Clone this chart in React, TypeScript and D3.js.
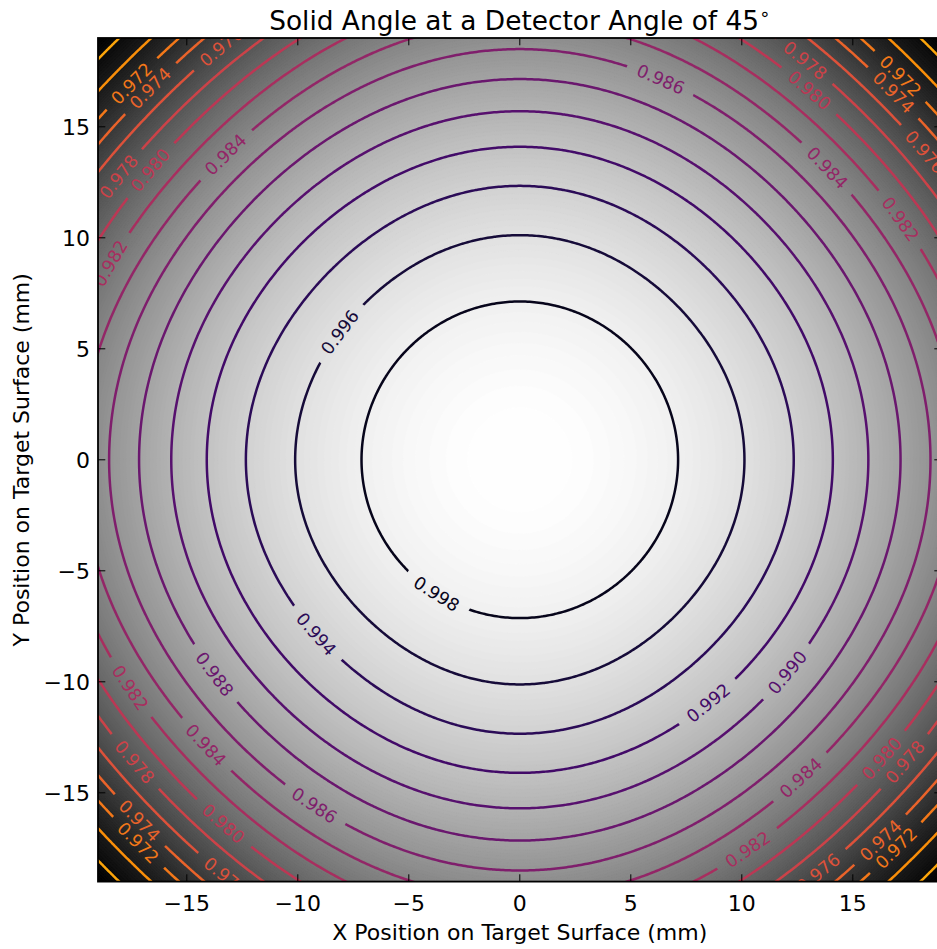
import React, { useMemo } from "react";
import * as d3 from "d3";

// Contour levels of the normalised solid angle
const levels = [
  0.998, 0.996, 0.994, 0.992, 0.99, 0.988, 0.986, 0.984, 0.982, 0.98, 0.978,
  0.976, 0.974, 0.972, 0.97, 0.968, 0.966,
];
// Distance (mm) from the centre at which each level crosses the x / y axes
const axisRadius = [
  7.13, 10.12, 12.34, 14.1, 15.7, 17.15, 18.5, 19.75, 20.95, 22.05, 23.1,
  24.1, 25.05, 25.95, 26.8, 27.6, 28.4,
];
// Distance (mm) from the centre at which each level crosses the diagonals
const diagonalRadius = [
  7.1, 9.92, 12.06, 13.84, 15.38, 16.75, 17.99, 19.1, 20.14, 21.1, 21.99,
  22.83, 23.61, 24.35, 25.2, 26.2, 27.1,
];
const peakValue = 1.0;
const xTicks = [-15, -10, -5, 0, 5, 10, 15];
const yTicks = [-15, -10, -5, 0, 5, 10, 15];
const domainMM: [number, number] = [-19, 19];

// Where the inline contour labels sit (mm)
const labelSpots = [
  { level: 0.998, x: -3.74, y: -5.95 },
  { level: 0.996, x: -8.02, y: 5.72 },
  { level: 0.994, x: -9.14, y: -7.75 },
  { level: 0.992, x: 8.42, y: -10.9 },
  { level: 0.99, x: 11.98, y: -9.55 },
  { level: 0.988, x: -13.65, y: -9.6 },
  { level: 0.986, x: 6.26, y: 16.9 },
  { level: 0.986, x: -9.28, y: -15.6 },
  { level: 0.984, x: -13.2, y: 13.65 },
  { level: 0.984, x: -14.0, y: -12.75 },
  { level: 0.984, x: 12.66, y: -14.28 },
  { level: 0.984, x: 13.78, y: 13.06 },
  { level: 0.982, x: 17.07, y: 10.72 },
  { level: 0.982, x: 10.18, y: -17.43 },
  { level: 0.982, x: -17.48, y: -10.27 },
  { level: 0.982, x: -18.6, y: 9.0 },
  { level: 0.98, x: -16.58, y: 13.06 },
  { level: 0.98, x: -13.2, y: -16.2 },
  { level: 0.98, x: 16.17, y: -13.29 },
  { level: 0.98, x: 13.02, y: 16.53 },
  { level: 0.978, x: -18.06, y: 12.7 },
  { level: 0.978, x: -17.25, y: -13.5 },
  { level: 0.978, x: 17.3, y: -13.6 },
  { level: 0.978, x: 12.8, y: 17.93 },
  { level: 0.976, x: 18.15, y: 13.83 },
  { level: 0.976, x: 13.2, y: -18.33 },
  { level: 0.976, x: -13.3, y: 18.47 },
  { level: 0.976, x: -13.2, y: -18.78 },
  { level: 0.974, x: -16.58, y: 16.67 },
  { level: 0.974, x: -16.94, y: -16.08 },
  { level: 0.974, x: 16.13, y: -16.98 },
  { level: 0.974, x: 16.7, y: 16.44 },
  { level: 0.972, x: -17.39, y: 16.89 },
  { level: 0.972, x: -17.07, y: -17.12 },
  { level: 0.972, x: 16.85, y: -17.43 },
  { level: 0.972, x: 17.16, y: 17.34 },
];

const W = 937;
const H = 949;
const M = { left: 98, top: 38, size: 843.6 };
const FONT = "'DejaVu Sans', 'Liberation Sans', sans-serif";
const LABEL_SIZE = 17.5;
const TICK_SIZE = 22;

// Normalised solid angle at a point, built from the level radii
function fieldAt(x: number, y: number): number {
  const r2 = x * x + y * y;
  if (r2 === 0) return peakValue;
  const s = Math.sin(2 * Math.atan2(y, x));
  const w = s * s;
  let prevR2 = 0;
  let prevV = peakValue;
  const radii: number[] = [];
  for (let i = 0; i < levels.length; i++) {
    const R = axisRadius[i] * (1 - w) + diagonalRadius[i] * w;
    const R2 = R * R;
    radii.push(R2);
    if (r2 <= R2) return prevV + ((levels[i] - prevV) * (r2 - prevR2)) / (R2 - prevR2);
    prevR2 = R2;
    prevV = levels[i];
  }
  const n = levels.length;
  const a = radii[n - 2];
  const b = radii[n - 1];
  return levels[n - 1] + ((levels[n - 1] - levels[n - 2]) * (r2 - b)) / (b - a);
}

export default function App() {
  const x = d3.scaleLinear().domain(domainMM).range([M.left, M.left + M.size]);
  const y = d3.scaleLinear().domain(domainMM).range([M.top + M.size, M.top]);

  const model = useMemo(() => {
    // grid over a slightly larger square so edge-following ring parts fall outside the frame
    const g0 = -20.5;
    const g1 = 20.5;
    const n = 410;
    const step = (g1 - g0) / n;
    const values = new Float64Array(n * n);
    for (let j = 0; j < n; j++) {
      const yy = g1 - (j + 0.5) * step;
      for (let i = 0; i < n; i++) {
        values[j * n + i] = fieldAt(g0 + (i + 0.5) * step, yy);
      }
    }
    const toPx = (p: number[]) => [x(g0 + p[0] * step), y(g1 - p[1] * step)];
    const gen = d3.contours().size([n, n]);

    const fMax = peakValue;
    const fMin = fieldAt(domainMM[1], domainMM[1]);
    const gray = (v: number) => {
      const t = Math.max(0, Math.min(1, (v - fMin) / (fMax - fMin)));
      const c = Math.round(255 * t);
      return `rgb(${c},${c},${c})`;
    };
    const nb = 200;
    const span = fMax - fMin + 0.01;
    const bandEdges = d3.range(nb).map((k) => fMin - 0.01 + (span * k) / nb);
    const ringPath = (rings: number[][][]) =>
      rings
        .map((ring) => "M" + ring.map((p) => toPx(p).map((v) => v.toFixed(2)).join(",")).join("L") + "Z")
        .join("");
    const bands = bandEdges.map((t, k) => {
      const c = gen.contour(values as any, k === 0 ? -Infinity : t);
      const d = c.coordinates.map((poly) => ringPath(poly)).join("");
      const mid = t + span / nb / 2;
      return { d, fill: gray(mid) };
    });

    const lines = levels.map((lv) => {
      const c = gen.contour(values as any, lv);
      const rings = c.coordinates.flat().map((ring) => ring.map(toPx));
      return { level: lv, rings };
    });
    return { bands, lines };
  }, []);

  const color = d3.scaleSequential(d3.interpolateInferno).domain([1.0, 0.96]);

  const labels = labelSpots.map((s) => {
    const ln = model.lines.find((l) => Math.abs(l.level - s.level) < 1e-9)!;
    const tx = x(s.x);
    const ty = y(s.y);
    let best = { d: Infinity, ring: 0, idx: 0 };
    ln.rings.forEach((ring, ri) => {
      ring.forEach((p, pi) => {
        const d = (p[0] - tx) ** 2 + (p[1] - ty) ** 2;
        if (d < best.d) best = { d, ring: ri, idx: pi };
      });
    });
    const ring = ln.rings[best.ring];
    const L = ring.length;
    const p = ring[best.idx];
    const a = ring[(best.idx - 5 + L) % L];
    const b = ring[(best.idx + 5) % L];
    let ang = (Math.atan2(b[1] - a[1], b[0] - a[0]) * 180) / Math.PI;
    if (ang > 90) ang -= 180;
    if (ang < -90) ang += 180;
    const text = d3.format(".3f")(s.level);
    return { level: s.level, x: p[0], y: p[1], angle: ang, text, color: color(s.level) };
  });

  const fmtTick = (v: number) => String(v).replace("-", "\u2212");
  const lineGen = d3.line<number[]>().x((p) => p[0]).y((p) => p[1]);
  const textW = (t: string) => LABEL_SIZE * (0.636 * (t.length - 1) + 0.318);

  const x0 = M.left;
  const x1 = M.left + M.size;
  const y0 = M.top;
  const y1 = M.top + M.size;
  const tick = 7.3;

  return (
    <svg
      width={W}
      height={H}
      viewBox={`0 0 ${W} ${H}`}
      style={{ position: "absolute", left: 0, top: 0, background: "#fff" }}
      fontFamily={FONT}
    >
      <defs>
        <clipPath id="plotClip">
          <rect x={x0} y={y0} width={M.size} height={M.size} />
        </clipPath>
        {model.lines.map((ln, i) => (
          <mask id={`gap${i}`} key={i} maskUnits="userSpaceOnUse" x={0} y={0} width={W} height={H}>
            <rect x={0} y={0} width={W} height={H} fill="#fff" />
            {labels
              .filter((l) => Math.abs(l.level - ln.level) < 1e-9)
              .map((l, k) => {
                const w = textW(l.text) + 22;
                return (
                  <rect
                    key={k}
                    x={l.x - w / 2}
                    y={l.y - 9}
                    width={w}
                    height={18}
                    fill="#000"
                    transform={`rotate(${l.angle},${l.x},${l.y})`}
                  />
                );
              })}
          </mask>
        ))}
      </defs>

      <g clipPath="url(#plotClip)">
        {model.bands.map((b, i) => (
          <path key={i} d={b.d} fill={b.fill} stroke={b.fill} strokeWidth={0.4} fillRule="evenodd" />
        ))}
        {model.lines.map((ln, i) => (
          <g key={i} mask={`url(#gap${i})`}>
            {ln.rings.map((ring, k) => (
              <path
                key={k}
                d={lineGen(ring.concat([ring[0]])) || ""}
                fill="none"
                stroke={color(ln.level)}
                strokeWidth={2.5}
                strokeLinejoin="round"
              />
            ))}
          </g>
        ))}
        {labels.map((l, i) => (
          <text
            key={i}
            x={l.x}
            y={l.y}
            dy="0.36em"
            textAnchor="middle"
            fontSize={LABEL_SIZE}
            fill={l.color}
            transform={`rotate(${l.angle},${l.x},${l.y})`}
          >
            {l.text}
          </text>
        ))}
      </g>

      {/* frame */}
      <rect x={x0} y={y0} width={M.size} height={M.size} fill="none" stroke="#000" strokeWidth={1.8} />

      {/* inward ticks on all four sides */}
      <g stroke="#000" strokeWidth={1}>
        {xTicks.map((t) => (
          <g key={`xt${t}`}>
            <line x1={x(t)} x2={x(t)} y1={y1} y2={y1 - tick} />
            <line x1={x(t)} x2={x(t)} y1={y0} y2={y0 + tick} />
          </g>
        ))}
        {yTicks.map((t) => (
          <g key={`yt${t}`}>
            <line x1={x0} x2={x0 + tick} y1={y(t)} y2={y(t)} />
            <line x1={x1} x2={x1 - tick} y1={y(t)} y2={y(t)} />
          </g>
        ))}
      </g>
      <g fontSize={TICK_SIZE} fill="#000">
        {xTicks.map((t) => (
          <text key={`xl${t}`} x={x(t)} y={y1 + 29} textAnchor="middle">
            {fmtTick(t)}
          </text>
        ))}
        {yTicks.map((t) => (
          <text key={`yl${t}`} x={x0 - 8} y={y(t)} dy="0.36em" textAnchor="end">
            {fmtTick(t)}
          </text>
        ))}
      </g>

      <text x={(x0 + x1) / 2} y={940} textAnchor="middle" fontSize={22} fill="#000">
        X Position on Target Surface (mm)
      </text>
      <text
        transform={`translate(29,${(y0 + y1) / 2}) rotate(-90)`}
        textAnchor="middle"
        fontSize={22}
        fill="#000"
      >
        Y Position on Target Surface (mm)
      </text>
      <text x={(x0 + x1) / 2} y={30} textAnchor="middle" fontSize={26.4} fill="#000">
        Solid Angle at a Detector Angle of 45
        <tspan dy={-10} fontSize={18}>
          ∘
        </tspan>
      </text>
    </svg>
  );
}
